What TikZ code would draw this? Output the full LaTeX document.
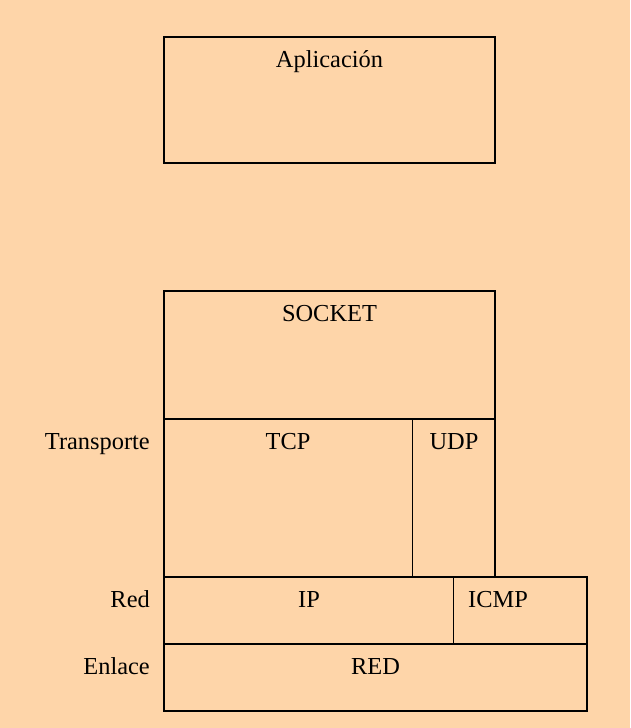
\documentclass[tikz,border=0pt]{standalone}
\usepackage{fontspec}
\setmainfont{Liberation Serif}
\usepackage{xcolor}
\usepackage{tikz}
\usetikzlibrary{positioning}
\definecolor{peach}{RGB}{254,213,169}
\tikzset{
    layer/.style={draw=black,line width=1.6pt,inner sep=0pt,outer sep=0pt},
    divider/.style={draw=black,line width=1pt},
    layer text/.style={anchor=base,inner sep=0pt},
    side text/.style={anchor=base east,inner sep=0pt},
}
\tikzstyle{every node}=[font=\fontsize{24.4}{28}\selectfont]

\begin{document}
\begin{tikzpicture}[x=1pt,y=-1pt]
        \fill[peach] (0,0) rectangle (630,728);

        % application and socket
        \node[layer,minimum width=331pt,minimum height=126pt,anchor=north west] (app) at (164,37) {};
        \node[layer,minimum width=331pt,minimum height=128pt,anchor=north west] (socket) at (164,291) {};

        % protocol stack
        \node[layer,minimum width=331pt,minimum height=158pt,below right=0pt and 0pt of socket.south west] (transp) {};
        \node[layer,minimum width=423pt,minimum height=67pt,below right=0pt and 0pt of transp.south west] (net) {};
        \node[layer,minimum width=423pt,minimum height=67pt,below right=0pt and 0pt of net.south west] (link) {};
        \draw[divider] ([xshift=248pt]transp.north west) -- ([xshift=248pt]transp.south west);
        \draw[divider] ([xshift=289pt]net.north west) -- ([xshift=289pt]net.south west);

        \node[layer text] (apptext) at ([yshift=-30pt]app.north) {Aplicación};
        \node[layer text] (sockettext) at ([yshift=-30pt]socket.north) {SOCKET};
        \node[layer text] (tcp) at ([xshift=124pt,yshift=-30pt]transp.north west) {TCP};
        \node[layer text] (udp) at ([xshift=290pt,yshift=-30pt]transp.north west) {UDP};
        \node[layer text] (ip) at ([xshift=145pt,yshift=-30pt]net.north west) {IP};
        \node[layer text] (icmp) at ([xshift=334pt,yshift=-30pt]net.north west) {ICMP};
        \node[layer text] (red) at ([yshift=-30pt]link.north) {RED};

        % layer names
        \node[side text] (transporte) at ([xshift=-14pt,yshift=-30pt]transp.north west) {Transporte};
        \node[side text] (redname) at ([xshift=-14pt,yshift=-30pt]net.north west) {Red};
        \node[side text] (enlace) at ([xshift=-14pt,yshift=-30pt]link.north west) {Enlace};
    \end{tikzpicture}
\end{document}
